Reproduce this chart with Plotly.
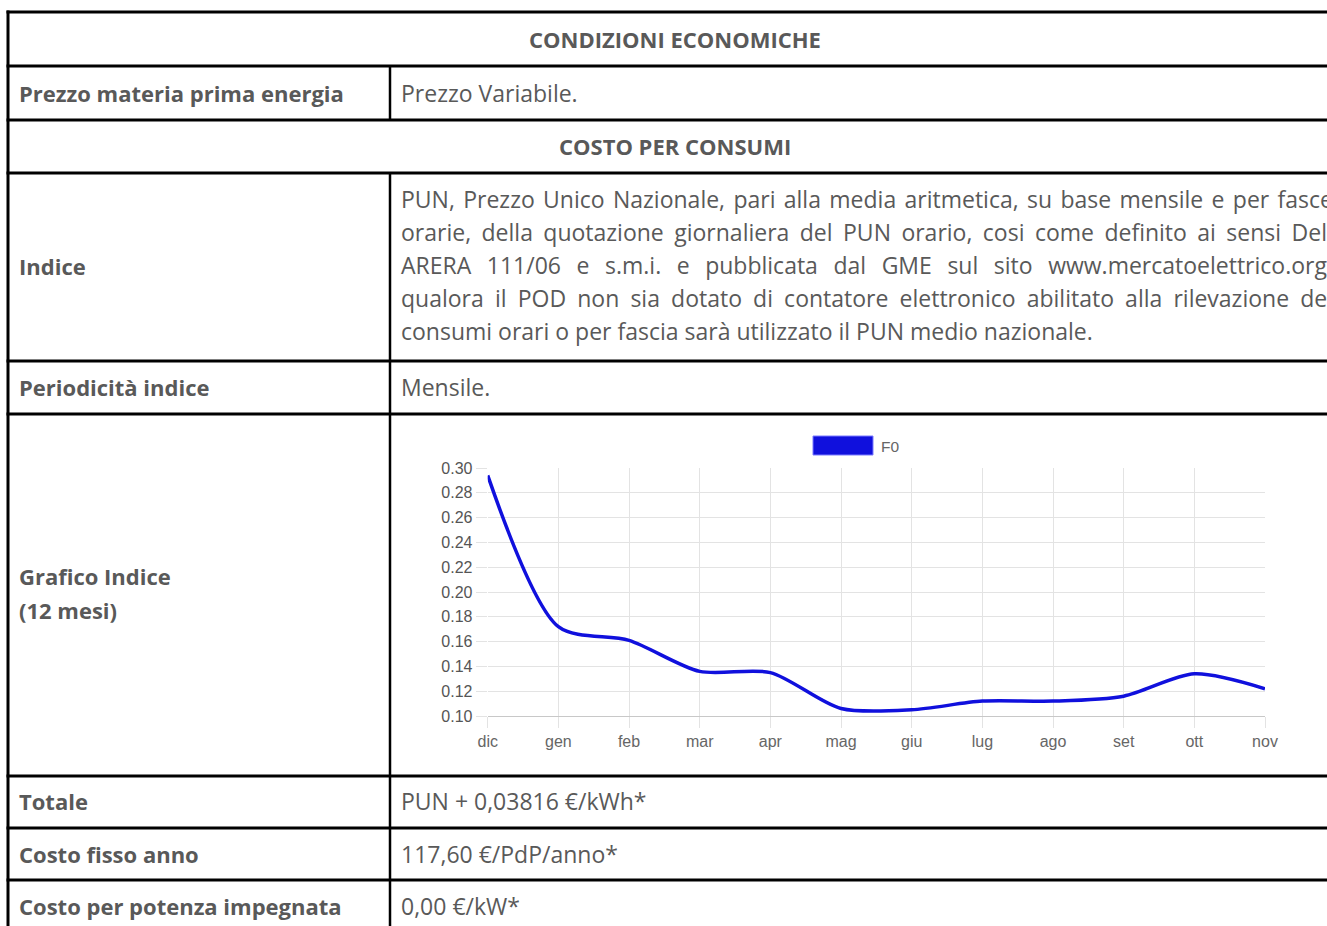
import plotly.graph_objects as go

# ---------------- data ----------------
months = ["dic", "gen", "feb", "mar", "apr", "mag", "giu", "lug", "ago", "set", "ott", "nov"]
f0_values = [0.294, 0.172, 0.161, 0.136, 0.135, 0.106, 0.105, 0.112, 0.112, 0.116, 0.134, 0.122]
y_ticks = [0.10, 0.12, 0.14, 0.16, 0.18, 0.20, 0.22, 0.24, 0.26, 0.28, 0.30]
series_name = "F0"

header_1 = "CONDIZIONI ECONOMICHE"
header_2 = "COSTO PER CONSUMI"
indice_lines = [
    "PUN, Prezzo Unico Nazionale, pari alla media aritmetica, su base mensile e per fasce",
    "orarie, della quotazione giornaliera del PUN orario, cosi come definito ai sensi Del.",
    "ARERA 111/06 e s.m.i. e pubblicata dal GME sul sito www.mercatoelettrico.org;",
    "qualora il POD non sia dotato di contatore elettronico abilitato alla rilevazione dei",
    "consumi orari o per fascia sarà utilizzato il PUN medio nazionale.",
]
rows = [
    ("Prezzo materia prima energia", "Prezzo Variabile."),
    ("Periodicità indice", "Mensile."),
    ("Totale", "PUN + 0,03816 €/kWh*"),
    ("Costo fisso anno", "117,60 €/PdP/anno*"),
    ("Costo per potenza impegnata", "0,00 €/kW*"),
]

# ---------------- layout helpers ----------------
W, H = 1327, 926
def px(x):
    return x / W
def py(y):
    return 1 - y / H

TXT = "#595959"
FONT = "Open Sans"
FS = 23
FSB = 22
CHART_FONT = "Liberation Sans, Arial"

fig = go.Figure()

fig.add_trace(go.Scatter(
    x=months, y=f0_values, mode="lines", name=series_name,
    line=dict(color="#1010dd", width=3.5, shape="spline", smoothing=0.8),
    showlegend=False, hoverinfo="x+y",
))

shapes = []
# horizontal table lines
for yy in [12, 66, 120, 173, 361, 414, 776, 828, 880, 933]:
    shapes.append(dict(type="line", xref="paper", yref="paper",
                       x0=px(6.5), x1=px(1345), y0=py(yy), y1=py(yy),
                       line=dict(color="black", width=3)))
# left border
shapes.append(dict(type="line", xref="paper", yref="paper",
                   x0=px(8), x1=px(8), y0=py(10.5), y1=py(935),
                   line=dict(color="black", width=3)))
# column divider
shapes.append(dict(type="line", xref="paper", yref="paper",
                   x0=px(390), x1=px(390), y0=py(66), y1=py(120),
                   line=dict(color="black", width=2.5)))
shapes.append(dict(type="line", xref="paper", yref="paper",
                   x0=px(390), x1=px(390), y0=py(173), y1=py(935),
                   line=dict(color="black", width=2.5)))
# legend swatch
shapes.append(dict(type="rect", xref="paper", yref="paper",
                   x0=px(813), x1=px(873), y0=py(455), y1=py(436),
                   fillcolor="#1010dd", line=dict(color="#7a7aff", width=1)))

ann = []
def label(text, x, y, bold=False, anchor="left", size=None, color=TXT, family=FONT):
    if size is None:
        size = FSB if bold else FS
    t = f"<b>{text}</b>" if bold else text
    ann.append(dict(text=t, xref="paper", yref="paper", x=px(x), y=py(y),
                    xanchor=anchor, yanchor="middle", showarrow=False,
                    align="left", font=dict(family=family, size=size, color=color)))

label(header_1, 675, 39, bold=True, anchor="center")
label(header_2, 675, 146, bold=True, anchor="center")

row_y = [93, 387, 801, 854, 906]
for (lft, rgt), yy in zip(rows, row_y):
    label(lft, 17, yy, bold=True)
    label(rgt, 399, yy)

label("Indice", 17, 266, bold=True)
for i, line in enumerate(indice_lines):
    label(line, 399, 199 + 33 * i)

label("Grafico Indice", 17, 576, bold=True)
label("(12 mesi)", 17, 610, bold=True)

label(series_name, 879, 446, size=15.5, color="#666666", family=CHART_FONT)

fig.update_layout(
    width=W, height=H,
    margin=dict(l=0, r=0, t=0, b=0, autoexpand=False),
    paper_bgcolor="white", plot_bgcolor="white",
    shapes=shapes, annotations=ann,
    showlegend=False,
    xaxis=dict(domain=[px(487.7), px(1265)], range=[0, 11], type="category",
               showgrid=True, gridcolor="#e3e3e3", gridwidth=1,
               ticks="outside", ticklen=11, tickcolor="#e3e3e3",
               showline=True, linecolor="#c8c8c8", linewidth=1,
               zeroline=False, automargin=False,
               tickfont=dict(family=CHART_FONT, size=16, color="#666666")),
    yaxis=dict(domain=[py(716), py(468)], range=[0.10, 0.30],
               tickvals=y_ticks, ticktext=[f"{v:.2f}" for v in y_ticks],
               showgrid=True, gridcolor="#e3e3e3", gridwidth=1,
               ticks="outside", ticklen=11, tickcolor="#e3e3e3",
               zeroline=False, showline=False, automargin=False,
               tickfont=dict(family=CHART_FONT, size=16, color="#555555")),
)

# page without body margin; justify first four lines of the "Indice" paragraph
justify_js = """
document.body.style.margin = '0';
document.body.style.overflow = 'hidden';
var gd = document.getElementById('{plot_id}');
var targets = %s;
function justify() {
  var texts = gd.querySelectorAll('text.annotation-text');
  texts.forEach(function(t) {
    var s = t.textContent;
    if (targets.indexOf(s) >= 0) {
      t.style.wordSpacing = '0px';
      var nat = t.getComputedTextLength();
      var n = (s.match(/ /g) || []).length;
      var ws = Math.max(0, (932 - nat) / n);
      t.style.wordSpacing = ws + 'px';
    }
  });
}
justify();
gd.on('plotly_afterplot', justify);
""" % (str(indice_lines[:4]).replace("'", '"'))

fig.write_html("out.html", post_script=justify_js, config={"displayModeBar": False})
